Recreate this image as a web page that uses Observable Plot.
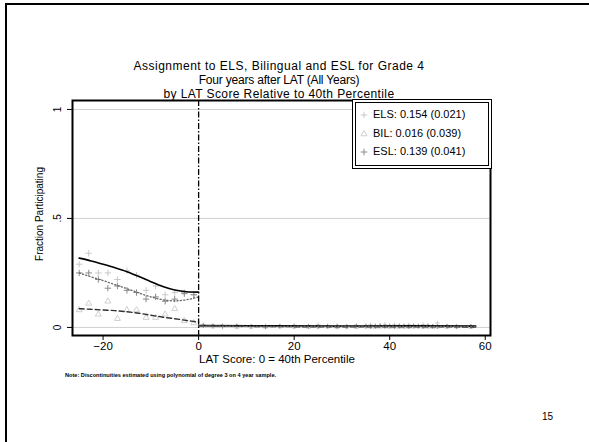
<!DOCTYPE html>
<html>
<head>
<meta charset="utf-8">
<script src="https://cdn.jsdelivr.net/npm/d3@7"></script>
<script src="https://cdn.jsdelivr.net/npm/@observablehq/plot@0.6"></script>
<style>
  html, body { margin: 0; padding: 0; background: #fff; overflow: hidden; }
  #page { position: relative; width: 589px; height: 442px; font-family: "Liberation Sans", Arial, sans-serif; color: #000; }
  #slideframe { position: absolute; left: 5px; top: 3px; width: 700px; height: 600px; border-top: 2.5px solid #000; border-left: 2.5px solid #000; }
  .t { position: absolute; white-space: nowrap; }
  .title { left: 0; width: 558px; text-align: center; font-size: 12px; line-height: 12px; }
  #legend { position: absolute; left: 352px; top: 99px; width: 132px; height: 62px; border: 4px double #000; background: #fff; font-size: 11px; }
  .lrow { position: absolute; left: 17px; }
  .lmark { position: absolute; left: 2px; }
</style>
</head>
<body>
<div id="page">
  <div id="slideframe"></div>
  <div id="chart" style="position:absolute;left:0;top:0;"></div>
  <div class="t title" style="top:60px;letter-spacing:0.5px;">Assignment to ELS, Bilingual and ESL for Grade 4</div>
  <div class="t title" style="top:74px;letter-spacing:-0.2px;">Four years after LAT (All Years)</div>
  <div class="t title" style="top:88px;letter-spacing:0.4px;">by LAT Score Relative to 40th Percentile</div>
  <div id="legend"></div>
  <div class="t" style="left:40px;top:214px;transform:translate(-50%,-50%) rotate(-90deg);font-size:10px;line-height:10px;">Fraction Participating</div>
  <div class="t" style="left:199px;top:354px;font-size:11.5px;line-height:11px;">LAT Score: 0 = 40th Percentile</div>
  <div class="t" style="left:65px;top:372px;font-size:5.6px;line-height:6px;font-weight:bold;">Note: Discontinuities estimated using polynomial of degree 3 on 4 year sample.</div>
  <div class="t" style="left:542px;top:411px;font-size:10px;">15</div>
</div>
<script>
// ---- data ----
const xLeft = [-25, -23, -21, -19, -17, -15, -13, -11, -9, -7, -5, -3, -1];
const elsLeft = [0.29, 0.34, 0.25, 0.25, 0.22, 0.26, 0.24, 0.17, 0.19, 0.15, 0.16, 0.16, 0.15];
const eslLeft = [0.25, 0.25, 0.22, 0.18, 0.19, 0.17, 0.16, 0.13, 0.14, 0.12, 0.13, 0.155, 0.15];
const bilLeft = [0.08, 0.11, 0.06, 0.12, 0.04, 0.08, 0.08, 0.045, 0.045, 0.06, 0.085, 0.03, 0.02];

const xRight = [1, 3, 5, 8, 11, 14, 17, 20, 23, 25, 27, 29, 31, 33, 35, 36, 37, 38, 39, 40, 41, 42, 43, 44, 45, 46, 47, 48, 49, 50, 52, 54, 57];
const elsRight = [0.012, 0.01, 0.008, 0.01, 0.006, 0.008, 0.005, 0.01, 0.006, 0.012, 0.004, 0.008, 0.006, 0.01, 0.005, 0.012, 0.008, 0.01, 0.014, 0.008, 0.012, 0.01, 0.009, 0.012, 0.01, 0.008, 0.013, 0.01, 0.006, 0.02, 0.007, 0.005, 0.004];
const eslRight = [0.008, 0.006, 0.004, 0.006, 0.004, 0.003, 0.006, 0.004, 0.005, 0.003, 0.006, 0.004, 0.003, 0.005, 0.006, 0.004, 0.005, 0.007, 0.005, 0.006, 0.004, 0.006, 0.005, 0.004, 0.006, 0.005, 0.004, 0.006, 0.005, 0.004, 0.005, 0.003, 0.004];
const bilRight = [0.01, 0.004, 0.006, 0.002, 0.003, 0.002, 0.004, 0.003, 0.002, 0.004, 0.003, 0.002, 0.003, 0.002, 0.004, 0.003, 0.002, 0.003, 0.004, 0.002, 0.003, 0.002, 0.003, 0.002, 0.003, 0.004, 0.002, 0.003, 0.002, 0.003, 0.002, 0.003, 0.002];

const fitXLeft = [-25, -22.5, -20, -17.5, -15, -12.5, -10, -7.5, -5, -2.5, 0];
const elsFitLeft = [0.318, 0.305, 0.29, 0.274, 0.256, 0.234, 0.21, 0.188, 0.172, 0.164, 0.162];
const eslFitLeft = [0.25, 0.232, 0.215, 0.196, 0.178, 0.158, 0.14, 0.127, 0.122, 0.127, 0.14];
const bilFitLeft = [0.086, 0.083, 0.08, 0.077, 0.072, 0.065, 0.056, 0.047, 0.04, 0.032, 0.024];

const fitXRight = [0, 15, 30, 45, 58];
const elsFitRight = [0.009, 0.007, 0.006, 0.007, 0.006];
const eslFitRight = [0.006, 0.005, 0.005, 0.005, 0.004];
const bilFitRight = [0.008, 0.004, 0.003, 0.003, 0.002];

const legendLabels = ["ELS: 0.154 (0.021)", "BIL: 0.016 (0.039)", "ESL: 0.139 (0.041)"];
const yTicks = [0, 0.5, 1];
const yTickLabels = ["0", ".5", "1"];
const xTicks = [-20, 0, 20, 40, 60];

// ---- build tables ----
const pts = (xs, ys, s) => xs.map((x, i) => ({x, y: ys[i], s}));
const leftPts = [...pts(xLeft, elsLeft, "ELS"), ...pts(xLeft, bilLeft, "BIL"), ...pts(xLeft, eslLeft, "ESL")];
const rightPts = [...pts(xRight, elsRight, "ELS"), ...pts(xRight, bilRight, "BIL"), ...pts(xRight, eslRight, "ESL")];
const style = {
  ELS: {symbol: "plus", stroke: "#c8c8c8", line: {stroke: "#000", strokeWidth: 1.6}},
  BIL: {symbol: "triangle", stroke: "#cfcfcf", line: {stroke: "#333", strokeWidth: 1.4, strokeDasharray: "5,3"}},
  ESL: {symbol: "plus", stroke: "#8a8a8a", line: {stroke: "#666", strokeWidth: 1.3, strokeDasharray: "1.2,2.2"}}
};
const fits = [
  ["ELS", fitXLeft, elsFitLeft], ["ELS", fitXRight, elsFitRight],
  ["BIL", fitXLeft, bilFitLeft], ["BIL", fitXRight, bilFitRight],
  ["ESL", fitXLeft, eslFitLeft], ["ESL", fitXRight, eslFitRight]
];

const chart = Plot.plot({
  width: 589,
  height: 442,
  marginLeft: 72,
  marginRight: 99,
  marginTop: 100,
  marginBottom: 107,
  style: {fontFamily: "Liberation Sans, Arial, sans-serif", fontSize: "11px", background: "transparent", overflow: "visible"},
  x: {domain: [-26.4, 61.1]},
  y: {domain: [-0.037, 1.041]},
  marks: [
    Plot.ruleY(yTicks, {stroke: "#d0d0d0", strokeWidth: 1}),
    ...["ELS", "BIL", "ESL"].map(s => Plot.dot(leftPts.filter(d => d.s === s), {x: "x", y: "y", symbol: style[s].symbol, stroke: style[s].stroke, r: 2.2, strokeWidth: 1})),
    ...["ELS", "BIL", "ESL"].map(s => Plot.dot(rightPts.filter(d => d.s === s), {x: "x", y: "y", symbol: style[s].symbol, stroke: style[s].stroke, r: 1.6, strokeWidth: 0.9})),
    ...fits.map(([s, xs, ys]) => Plot.line(xs.map((x, i) => ({x, y: ys[i]})), {x: "x", y: "y", curve: "monotone-x", ...style[s].line})),
    Plot.ruleX([0], {stroke: "#000", strokeWidth: 1.3, strokeDasharray: "6,2,1.5,2"}),
    Plot.axisX({ticks: xTicks, tickSize: 5, tickPadding: 1, fontSize: 11.5, label: null}),
    Plot.axisY({ticks: yTicks, tickFormat: d => yTickLabels[yTicks.indexOf(d)], tickSize: 5, tickPadding: 7, tickRotate: -90, fontSize: 10, label: null}),
    Plot.frame({stroke: "#000", strokeWidth: 2})
  ]
});
document.getElementById("chart").appendChild(chart);

// legend (HTML) with Plot-symbol-like glyphs
const legend = document.getElementById("legend");
const legendSymbols = ["ELS", "BIL", "ESL"];
legendLabels.forEach((lab, i) => {
  const top = 5 + i * 18.5;
  const s = style[legendSymbols[i]];
  const sym = s.symbol === "triangle" ? d3.symbolTriangle : d3.symbolPlus;
  const path = d3.symbol(sym, 16)();
  const m = document.createElement("div");
  m.className = "lmark";
  m.style.top = (top + 1) + "px";
  m.innerHTML = `<svg width="12" height="12"><path transform="translate(6,6)" d="${path}" fill="none" stroke="${s.stroke}" stroke-width="1"/></svg>`;
  legend.appendChild(m);
  const r = document.createElement("div");
  r.className = "lrow";
  r.style.top = top + "px";
  r.textContent = lab;
  legend.appendChild(r);
});
</script>
</body>
</html>
